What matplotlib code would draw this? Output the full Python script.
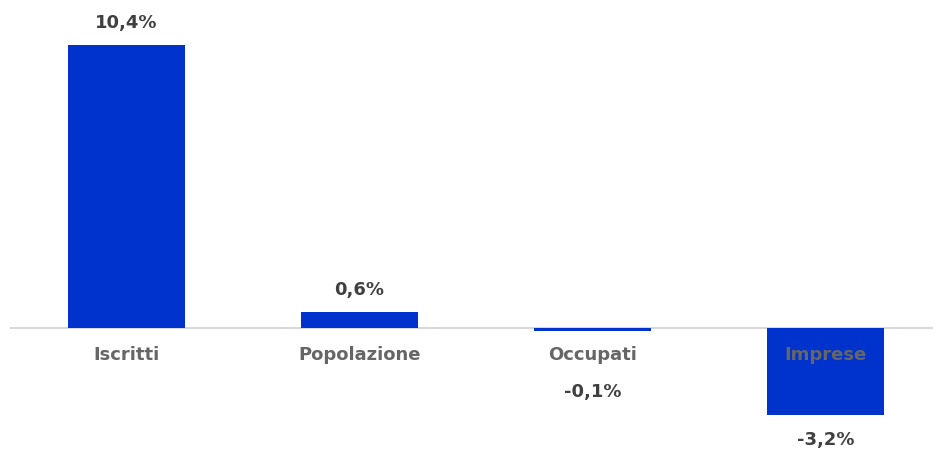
import matplotlib
matplotlib.use("Agg")
import matplotlib.pyplot as plt

plt.rcParams["font.family"] = ["DejaVu Sans"]

# -----------------------------
# Data
# -----------------------------
categories = ["Iscritti", "Popolazione", "Occupati", "Imprese"]
values = [10.4, 0.6, -0.1, -3.2]
value_labels = ["10,4%", "0,6%", "-0,1%", "-3,2%"]

BAR_COLOR = "#0033CC"
VALUE_COLOR = "#404040"
CAT_COLOR = "#666666"
FS = 13

fig = plt.figure(figsize=(9.33, 4.51), dpi=100)
ax = fig.add_axes([10 / 933, 0, 923 / 933, 1])

x = list(range(len(categories)))
ax.bar(x, values, width=0.502, color=BAR_COLOR, zorder=2)
ax.axhline(0, color="#d0d0d0", lw=1.2, zorder=1)

ax.set_xlim(-0.5, 3.461)
ax.set_ylim(-4.52, 12.05)
ax.axis("off")

# category labels just under the zero line
for xi, cat in zip(x, categories):
    ax.annotate(cat, (xi, 0), xytext=(0, -27), textcoords="offset pixels",
                ha="center", va="center", fontsize=FS, fontweight="bold",
                color=CAT_COLOR, zorder=3)

# value labels above/below bars
for xi, v, lab in zip(x, values, value_labels):
    if v >= 0:
        ax.annotate(lab, (xi, v), xytext=(0, 22), textcoords="offset pixels",
                    ha="center", va="center", fontsize=FS, fontweight="bold",
                    color=VALUE_COLOR)
    else:
        y = min(v, -1.43)
        ax.annotate(lab, (xi, y), xytext=(0, -25), textcoords="offset pixels",
                    ha="center", va="center", fontsize=FS, fontweight="bold",
                    color=VALUE_COLOR)

plt.savefig("out.png", dpi=100)
